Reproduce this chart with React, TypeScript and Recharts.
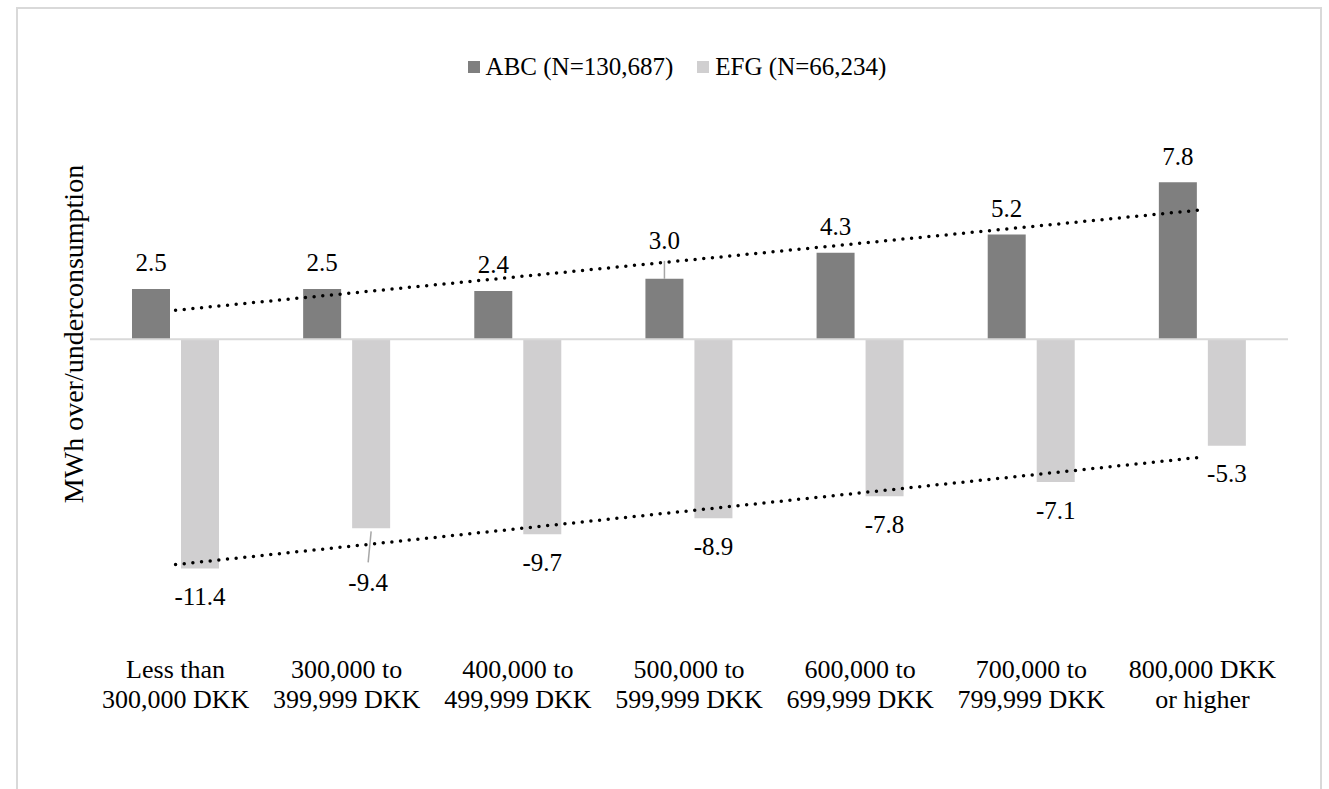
import {
  ComposedChart,
  Bar,
  Line,
  XAxis,
  YAxis,
  ReferenceLine,
  LabelList,
  Legend,
} from "recharts";

const categories = [
  "Less than\n300,000 DKK",
  "300,000 to\n399,999 DKK",
  "400,000 to\n499,999 DKK",
  "500,000 to\n599,999 DKK",
  "600,000 to\n699,999 DKK",
  "700,000 to\n799,999 DKK",
  "800,000 DKK\nor higher",
];
const abcValues = [2.5, 2.5, 2.4, 3.0, 4.3, 5.2, 7.8];
const efgValues = [-11.4, -9.4, -9.7, -8.9, -7.8, -7.1, -5.3];
// linear trendlines, end points
const abcTrend = [1.44, null, null, null, null, null, 6.43];
const efgTrend = [-11.2, null, null, null, null, null, -5.86];
const seriesNames = ["ABC (N=130,687)", "EFG (N=66,234)"];
const yLabel = "MWh over/underconsumption";

const FONT = '"Liberation Serif", "DejaVu Serif", serif';
const ABC_COLOR = "#7f7f7f";
const EFG_COLOR = "#d0cfd0";
const GRID = "#d9d9d9";

// labels that were dragged away from the bar in the original, with a leader line
const LABEL_NUDGE: Record<string, Record<number, number>> = {
  abc: { 3: 12 },
  efg: { 1: 26 },
};

const data = categories.map((c, i) => ({
  name: c,
  abc: abcValues[i],
  efg: efgValues[i],
  abcTrend: abcTrend[i],
  efgTrend: efgTrend[i],
}));

function makeLabel(series: "abc" | "efg") {
  return (props: any) => {
    const { x, y, width, height, value, index } = props;
    const top = Math.min(y, y + height);
    const bottom = Math.max(y, y + height);
    const cx = x + width / 2;
    const nudge = LABEL_NUDGE[series][index] ?? 0;
    const positive = value >= 0;
    const ly = positive ? top - 26 - nudge : bottom + 28 + nudge;
    return (
      <g>
        {nudge > 0 &&
          (positive ? (
            <line x1={cx} x2={cx} y1={ly + 20} y2={top} stroke="#a6a6a6" strokeWidth={1.5} />
          ) : (
            <line x1={cx} x2={cx - 3} y1={bottom + 3} y2={ly - 20} stroke="#a6a6a6" strokeWidth={1.5} />
          ))}
        <text
          x={positive ? cx : cx - (nudge > 0 ? 3 : 0)}
          y={ly}
          textAnchor="middle"
          dominantBaseline="central"
          style={{ fontFamily: FONT, fontSize: 25 }}
          fill="#000"
        >
          {Number(value).toFixed(1)}
        </text>
      </g>
    );
  };
}

function CategoryTick(props: any) {
  const { x, y, payload } = props;
  const lines = String(payload.value).split("\n");
  return (
    <text x={x} y={y + 29} textAnchor="middle" style={{ fontFamily: FONT, fontSize: 26 }} fill="#000">
      {lines.map((l, i) => (
        <tspan key={i} x={x} dy={i === 0 ? 0 : 30}>
          {l}
        </tspan>
      ))}
    </text>
  );
}

function LegendContent() {
  const colors = [ABC_COLOR, EFG_COLOR];
  return (
    <div
      style={{
        display: "flex",
        justifyContent: "center",
        alignItems: "center",
        height: 30,
        paddingLeft: 25,
        fontFamily: FONT,
        fontSize: 25,
        color: "#000",
        gap: 24,
      }}
    >
      {seriesNames.map((n, i) => (
        <div key={n} style={{ display: "flex", alignItems: "center", gap: 6 }}>
          <span style={{ width: 12, height: 12, background: colors[i], display: "inline-block" }} />
          <span>{n}</span>
        </div>
      ))}
    </div>
  );
}

export default function App() {
  return (
    <div style={{ position: "relative", width: 1329, height: 789, overflow: "hidden", background: "#fff" }}>
      <style>{"body{margin:0}"}</style>
      <div
        style={{
          position: "absolute",
          left: 16,
          top: 7,
          width: 1306,
          height: 820,
          border: `2px solid ${GRID}`,
          boxSizing: "border-box",
        }}
      />
      <div style={{ position: "absolute", left: 0, top: 0 }}>
        <ComposedChart
          width={1329}
          height={789}
          data={data}
          margin={{ top: 108, right: 41, bottom: 88, left: 0 }}
          barSize={38}
          barGap={11}
        >
          <Legend
            verticalAlign="top"
            content={<LegendContent />}
            wrapperStyle={{ top: 52, left: 0, width: 1329 }}
          />
          <XAxis
            dataKey="name"
            height={60}
            axisLine={false}
            tickLine={false}
            interval={0}
            tick={<CategoryTick />}
          />
          <YAxis
            width={90}
            domain={[-15, 10]}
            tick={false}
            axisLine={false}
            tickLine={false}
            label={() => (
              <text
                x={73}
                y={334}
                transform="rotate(-90 73 334)"
                textAnchor="middle"
                dominantBaseline="central"
                style={{ fontFamily: FONT, fontSize: 28 }}
                fill="#000"
              >
                {yLabel}
              </text>
            )}
          />
          <ReferenceLine y={0} stroke={GRID} strokeWidth={2} />
          <Bar dataKey="abc" name={seriesNames[0]} fill={ABC_COLOR} isAnimationActive={false}>
            <LabelList dataKey="abc" content={makeLabel("abc")} />
          </Bar>
          <Bar dataKey="efg" name={seriesNames[1]} fill={EFG_COLOR} isAnimationActive={false}>
            <LabelList dataKey="efg" content={makeLabel("efg")} />
          </Bar>
          <Line
            dataKey="abcTrend"
            stroke="#000"
            strokeWidth={3.5}
            strokeDasharray="0 8.7"
            strokeLinecap="round"
            dot={false}
            activeDot={false}
            connectNulls
            legendType="none"
            isAnimationActive={false}
          />
          <Line
            dataKey="efgTrend"
            stroke="#000"
            strokeWidth={3.5}
            strokeDasharray="0 8.7"
            strokeLinecap="round"
            dot={false}
            activeDot={false}
            connectNulls
            legendType="none"
            isAnimationActive={false}
          />
        </ComposedChart>
      </div>
    </div>
  );
}
